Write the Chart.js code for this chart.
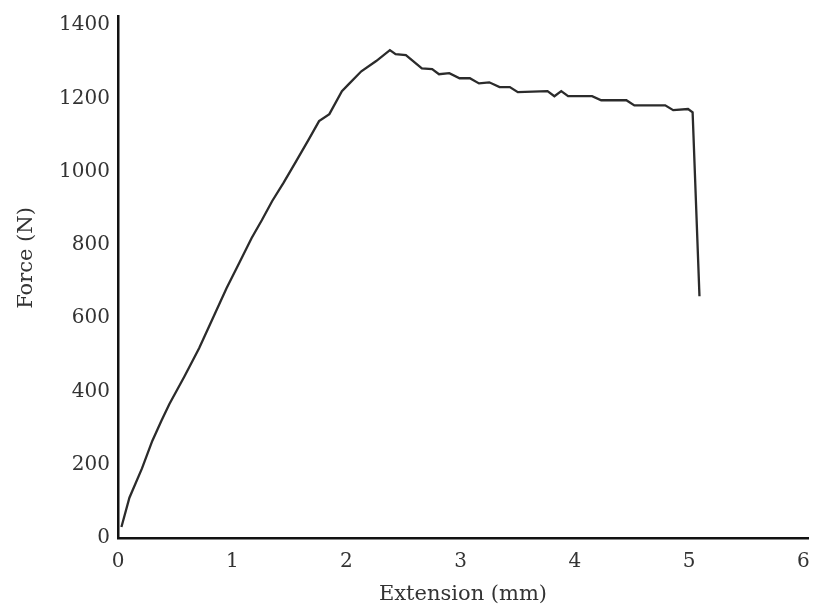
<!DOCTYPE html>
<html>
<head>
<meta charset="utf-8">
<script src="https://cdn.jsdelivr.net/npm/chart.js@4"></script>
<style>
  html, body { margin: 0; padding: 0; background: #fff; }
  #wrap { width: 814px; height: 611px; }
</style>
</head>
<body>
<div id="wrap"><canvas id="forceChart" width="814" height="611"></canvas></div>
<script>
// Force vs extension curve
const extension = [0.03, 0.10, 0.21, 0.30, 0.38, 0.45, 0.58, 0.71, 0.83, 0.95, 1.06, 1.17, 1.26, 1.35, 1.45, 1.56, 1.67, 1.76, 1.85, 1.96, 2.02, 2.13, 2.26, 2.38, 2.43, 2.52, 2.66, 2.75, 2.81, 2.90, 2.99, 3.08, 3.16, 3.25, 3.34, 3.43, 3.50, 3.76, 3.82, 3.88, 3.94, 4.15, 4.23, 4.45, 4.52, 4.79, 4.86, 4.99, 5.03, 5.09];
const force = [30, 110, 190, 265, 320, 366, 440, 518, 600, 682, 750, 819, 868, 920, 970, 1029, 1088, 1138, 1157, 1220, 1239, 1274, 1302, 1332, 1321, 1318, 1282, 1280, 1266, 1269, 1255, 1255, 1241, 1244, 1231, 1231, 1217, 1220, 1206, 1220, 1206, 1206, 1195, 1195, 1181, 1181, 1168, 1171, 1162, 660];

const xTicks = [0, 1, 2, 3, 4, 5, 6];
const yTicks = [0, 200, 400, 600, 800, 1000, 1200, 1400];

const ink = '#333333';
const fontFamily = '"DejaVu Serif", "Liberation Serif", serif';

const points = extension.map((x, i) => ({ x: x, y: force[i] }));

// y axis title sits a little above the middle of the axis in the original
const yTitlePlugin = {
    id: 'yTitle',
    afterDraw: function(chart) {
        const c = chart.ctx;
        c.save();
        c.translate(27, 258);
        c.rotate(-Math.PI / 2);
        c.fillStyle = ink;
        c.font = '21px ' + fontFamily;
        c.textAlign = 'center';
        c.textBaseline = 'middle';
        c.fillText('Force (N)', 0, 0);
        c.restore();
    }
};

new Chart(document.getElementById('forceChart'), {
    type: 'line',
    data: {
        datasets: [{
            data: points,
            borderColor: '#2b2b2b',
            borderWidth: 2.3,
            pointRadius: 0,
            tension: 0,
            fill: false
        }]
    },
    options: {
        responsive: false,
        animation: false,
        layout: {
            padding: { left: 0, top: 16, right: 6, bottom: 0 }
        },
        plugins: {
            legend: { display: false },
            tooltip: { enabled: false }
        },
        scales: {
            x: {
                type: 'linear',
                min: 0,
                max: 6.04,
                afterBuildTicks: function(scale) {
                    scale.ticks = xTicks.map(v => ({ value: v }));
                },
                afterFit: function(scale) {
                    scale.height = 73;
                    scale.paddingLeft = 0;
                    scale.paddingRight = 0;
                },
                grid: { display: false, drawTicks: false },
                border: { display: true, color: '#111', width: 2.5 },
                ticks: {
                    color: ink,
                    padding: 12,
                    font: { family: fontFamily, size: 20 },
                    callback: function(value) { return String(value); }
                },
                title: {
                    display: true,
                    text: 'Extension (mm)',
                    color: ink,
                    padding: { top: 4, bottom: 4 },
                    font: { family: fontFamily, size: 21 }
                }
            },
            y: {
                type: 'linear',
                min: 0,
                max: 1425,
                afterBuildTicks: function(scale) {
                    scale.ticks = yTicks.map(v => ({ value: v }));
                },
                afterFit: function(scale) {
                    scale.width = 118;
                    scale.paddingTop = 0;
                    scale.paddingBottom = 0;
                },
                grid: { display: false, drawTicks: false },
                border: { display: true, color: '#111', width: 2.5 },
                ticks: {
                    color: ink,
                    padding: 8,
                    font: { family: fontFamily, size: 20 },
                    callback: function(value) { return String(value); }
                },
                title: { display: false }
            }
        }
    },
    plugins: [yTitlePlugin]
});
</script>
</body>
</html>
